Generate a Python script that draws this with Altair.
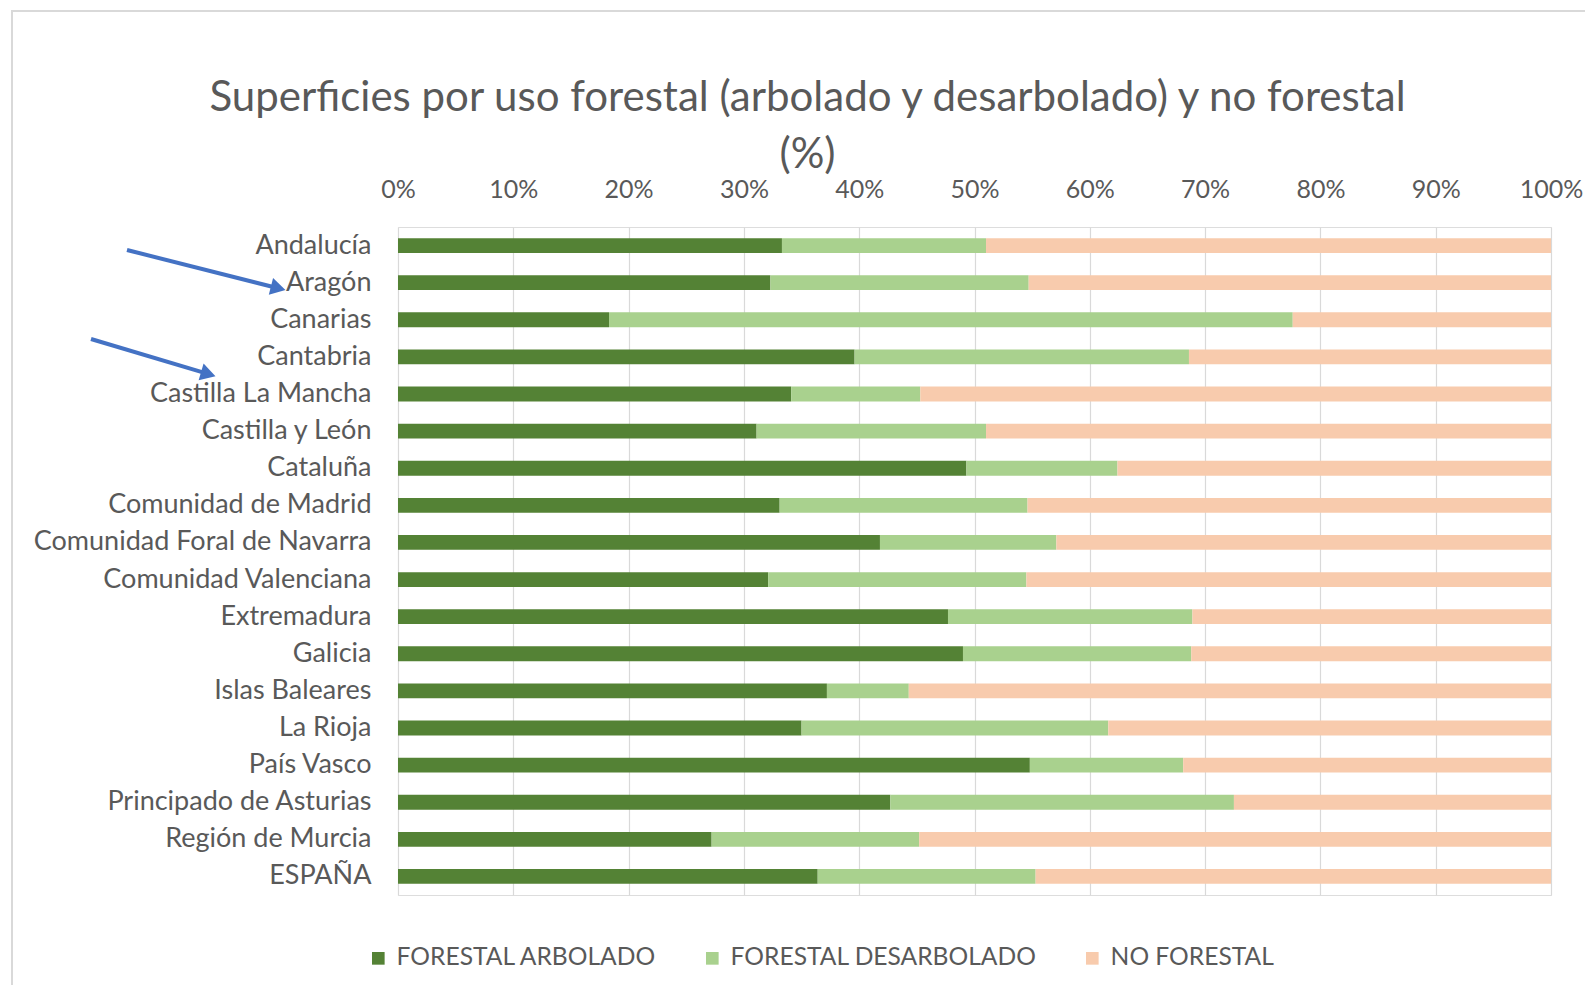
import altair as alt
import pandas as pd
import math

regions = ["Andalucía", "Aragón", "Canarias", "Cantabria", "Castilla La Mancha",
           "Castilla y León", "Cataluña", "Comunidad de Madrid",
           "Comunidad Foral de Navarra", "Comunidad Valenciana", "Extremadura",
           "Galicia", "Islas Baleares", "La Rioja", "País Vasco",
           "Principado de Asturias", "Región de Murcia", "ESPAÑA"]
arbolado = [33.3, 32.3, 18.3, 39.6, 34.1, 31.1, 49.3, 33.1, 41.8, 32.1, 47.7,
            49.0, 37.2, 35.0, 54.8, 42.7, 27.2, 36.4]
desarbolado = [17.7, 22.4, 59.3, 29.0, 11.2, 19.9, 13.1, 21.5, 15.3, 22.4, 21.2,
               19.8, 7.1, 26.6, 13.3, 29.8, 18.0, 18.9]
no_forestal = [49.0, 45.3, 22.4, 31.4, 54.7, 49.0, 37.6, 45.4, 42.9, 45.5, 31.1,
               31.2, 55.7, 38.4, 31.9, 27.5, 54.8, 44.7]
series = ["FORESTAL ARBOLADO", "FORESTAL DESARBOLADO", "NO FORESTAL"]
colors = ["#548235", "#A9D18E", "#F8CBAD"]
x_ticks = [0, 0.1, 0.2, 0.3, 0.4, 0.5, 0.6, 0.7, 0.8, 0.9, 1.0]

# annotation arrows (pixel positions relative to the plot origin)
arrow_start_x = [-271, -307]
arrow_start_y = [23, 112]
arrow_tip_x = [-113, -183]
arrow_tip_y = [63, 149]

FONT = "Lato"
GRAY = "#595959"
BLUE = "#4472C4"

rows = []
for i, r in enumerate(regions):
    for k, vals in enumerate([arbolado, desarbolado, no_forestal]):
        rows.append({"region": r, "serie": series[k], "valor": vals[i], "orden": k})
df = pd.DataFrame(rows)

bars = alt.Chart(df).mark_bar().encode(
    x=alt.X("valor:Q", stack="normalize",
            scale=alt.Scale(domain=[0, 1], nice=False),
            axis=alt.Axis(orient="top", values=x_ticks, format=".0%", title=None,
                          domain=False, ticks=False, grid=True, gridColor="#D9D9D9",
                          gridWidth=1.2, labelFont=FONT, labelFontSize=25,
                          labelColor=GRAY, labelPadding=25, labelFlush=False,
                          labelOverlap=False)),
    y=alt.Y("region:N", sort=regions,
            scale=alt.Scale(paddingInner=0.6, paddingOuter=0.3),
            axis=alt.Axis(title=None, domain=False, ticks=False, labelFont=FONT,
                          labelFontSize=27, labelColor=GRAY, labelPadding=27,
                          labelLimit=0)),
    color=alt.Color("serie:N", scale=alt.Scale(domain=series, range=colors),
                    legend=alt.Legend(title=None, orient="none", direction="horizontal",
                                      legendX=-32, legendY=719, symbolType="square",
                                      symbolSize=160, symbolStrokeWidth=0,
                                      labelFont=FONT, labelFontSize=24.6,
                                      labelColor=GRAY, columnPadding=43,
                                      labelOffset=6, labelLimit=0)),
    order=alt.Order("orden:Q"),
)

one = pd.DataFrame({"a": [0]})

border = alt.Chart(one).mark_rect(fillOpacity=0, stroke="#D9D9D9", strokeWidth=2).encode(
    x=alt.value(-386), y=alt.value(-216), x2=alt.value(1300), y2=alt.value(900))
layers = [border, bars]

for i in range(len(arrow_start_x)):
    x0, y0, x1, y1 = arrow_start_x[i], arrow_start_y[i], arrow_tip_x[i], arrow_tip_y[i]
    dx, dy = x1 - x0, y1 - y0
    L = (dx * dx + dy * dy) ** 0.5
    ux, uy = dx / L, dy / L
    ang = math.degrees(math.atan2(dy, dx))
    cx, cy = x1 - 7 * ux, y1 - 7 * uy
    line = alt.Chart(one).mark_rule(color=BLUE, strokeWidth=4).encode(
        x=alt.value(x0), y=alt.value(y0), x2=alt.value(cx - 3 * ux), y2=alt.value(cy - 3 * uy))
    head = alt.Chart(one).mark_point(shape="triangle-right", filled=True, color=BLUE,
                                     opacity=1, size=300, angle=round(ang, 1)).encode(
        x=alt.value(cx), y=alt.value(cy))
    layers += [line, head]

chart = alt.layer(*layers).properties(
    width=1153, height=668,
    title=alt.TitleParams(
        ["Superficies por uso forestal (arbolado y desarbolado) y no forestal", "(%)"],
        font=FONT, fontSize=42, fontWeight="normal", color=GRAY, lineHeight=57,
        anchor="middle", dx=-167, offset=-167),
    autosize=alt.AutoSizeParams(type="none"),
    padding={"left": 390, "top": 219, "right": 34, "bottom": 90},
).configure_view(stroke=None).configure(background="white")

chart.save("out.html", embed_options={"renderer": "svg", "actions": False})
